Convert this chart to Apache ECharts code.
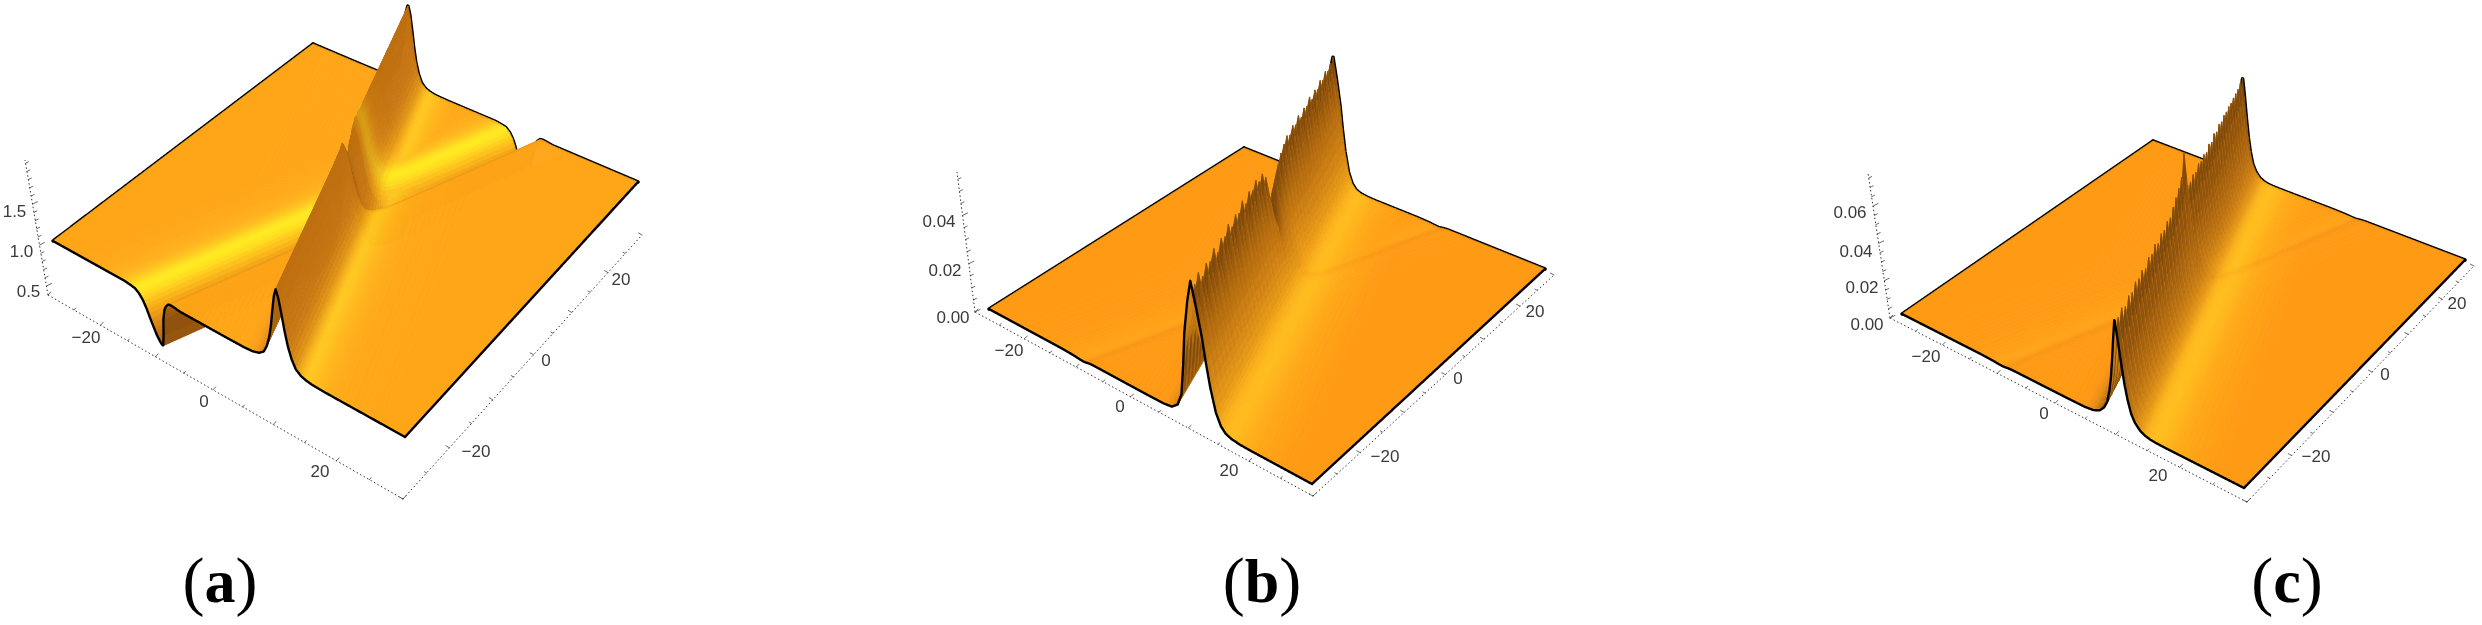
<!DOCTYPE html>
<html><head><meta charset="utf-8">
<style>html,body{margin:0;padding:0;background:#fff}#c{width:2482px;height:625px}</style>
<script src="https://cdn.jsdelivr.net/npm/echarts@6/dist/echarts.min.js"></script>
</head><body><div id="c"></div>
<script>
// ---------- values ----------
const panelNames = ['a', 'b', 'c'];
const xTickValues = [-30,-25,-20,-15,-10,-5,0,5,10,15,20,25,30];
const yTickValues = [-30,-25,-20,-15,-10,-5,0,5,10,15,20,25,30];
const planTickLabels = ['\u221220', '0', '20'];
const zTickLabelsA = ['0.5', '1.0', '1.5'];
const zTickLabelsB = ['0.00', '0.02', '0.04'];
const zTickLabelsC = ['0.00', '0.02', '0.04', '0.06'];
const zTicksA = [0.5,0.6,0.7,0.8,0.9,1,1.1,1.2,1.3,1.4,1.5,1.6,1.7,1.8,1.9,2];
const zTicksB = [0,0.005,0.01,0.015,0.02,0.025,0.03,0.035,0.04,0.045,0.05,0.055];
const zTicksC = [0,0.005,0.01,0.015,0.02,0.025,0.03,0.035,0.04,0.045,0.05,0.055,0.06,0.065,0.07,0.075];

// height of the tall ridge against distance from its crest line
const ridgeOffsets = [-50,-16,-9,-6,-4.5,-3.4,-2.6,-2,-1.5,-1.1,-.7,-.35,0,.35,.7,1.1,1.5,2,2.6,3.4,4.2,5,6,7.5,9,12,16,50];
const ridgeHeightA = [0,0,0,.002,.011,.037,.084,.177,.307,.465,.67,.837,.93,.837,.67,.465,.307,.177,.084,.037,.017,.007,.002,0,0,0,0,0];
const ridgeHeightB = [0,0,0,.0001,.0006,.0028,.0079,.0203,.0338,.0406,.0474,.0519,.0564,.0519,.0474,.0417,.0361,.0265,.0169,.0079,.0034,.0014,.0005,.0001,0,0,0,0];
const ridgeHeightC = [0,0,0,.0001,.0007,.0023,.0051,.009,.0158,.0237,.035,.0463,.0565,.0463,.035,.0237,.0158,.009,.0051,.0023,.001,.0004,.0001,0,0,0,0,0];
// how far the crest serration reaches down the flanks
const toothReach  = [0,0,0,0,0,.05,.2,.4,.7,.9,1,1,1,1,1,.9,.7,.4,.2,.05,0,0,0,0,0,0,0,0];
const streakReach = [0,0,0,0,0,.2,.4,.55,.7,.85,1,1,1,.8,.55,.32,.18,.1,.05,.02,0,0,0,0,0,0,0,0];

// depth of the valley against distance from its floor line
const valleyOffsets = [-50,-14,-10,-7.5,-6,-5,-4.2,-3.5,-2.9,-2.4,-1.9,-1.4,-1,-.6,-.3,0,.3,.6,1,1.4,1.9,2.4,3,4,6,50];
const valleyDepthA = [0,0,0,0,0,-.01,-.02,-.06,-.12,-.2,-.3,-.39,-.46,-.51,-.54,-.55,-.42,-.22,-.09,-.03,.01,.015,.01,0,0,0];
const valleyDepthB = [0,0,0,0,0,0,0,-.00005,-.0001,-.00015,-.0002,-.0003,-.0004,-.0005,-.0005,-.0006,-.0005,-.0004,-.0002,-.0001,0,0,0,0,0,0];
const valleyDepthC = [0,0,0,0,0,0,0,-.00005,-.0001,-.00015,-.0002,-.0003,-.0004,-.0005,-.0005,-.0006,-.0005,-.0004,-.0002,-.0001,0,0,0,0,0,0];

// crest gain along the ridge, from the front edge to the back edge
const crestGainA = [1,1,1,1,1,1,1,1,1,1,1,1,1,1,1,1,1,1,1.08,1.1,1.18,1.25,1.14,1.05,1,1,1,1,1,1,1,1,1,1,1,1,1,1,1,1,1];
const crestGainB = [1,.93,.97,.9,.95,.92,.97,.9,.96,.93,.98,.92,.97,.94,.99,.93,.98,.95,.99,.94,.96,.9,.72,.5,.78,.85,.9,.93,.96,.93,.97,.94,.98,.93,.97,.95,.99,.94,.98,.95,.99,.96,1,.97,1,1.02];
const crestGainC = [1,.95,.98,.93,.97,.94,.98,.95,.97,.93,.98,.95,.99,.94,.98,.96,.99,.97,1.02,1.06,1.1,1.16,1.36,.98,.96,.98,.95,.99,.96,.98,.95,.99,.96,1,.97,1,.98,1,.99,1,.99,1,1,1,1.02,1.03];

// surface colours
const ridgeColourA = ['#FFA518','#FFA518','#FFA518','#FFA518','#FAA018','#EC9216','#D88412','#B87010','#A86410','#A86410','#B06810','#B86C10','#BC7010','#C07010','#C27212','#C47412','#C87814','#D48414','#E09616','#F8B41C','#FFC820','#FFC41E','#FFBA1C','#FFB01A','#FFAA19','#FFA719','#FFA518','#FFA518'];
const ridgeColourB = ['#FF9A14','#FF9A14','#FF9A14','#FF9814','#E88C14','#C87A12','#A86410','#8C5410','#A46210','#B86E10','#C07212','#C47412','#C07010','#C07010','#BE7012','#BE7212','#C27612','#CC7E12','#D88A14','#E89A16','#F8AE1A','#FFB81C','#FFBC1C','#FFB41A','#FFAB18','#FFA216','#FF9A14','#FF9A14'];
const ridgeColourC = ['#FF9A14','#FF9A14','#FF9A14','#FF9814','#E88C14','#C87A12','#A86410','#8C5410','#A46210','#B86E10','#C07212','#C47412','#C07010','#C07010','#BE7012','#BE7212','#C27612','#CC7E12','#D88A14','#E89A16','#F8B01A','#FFBA1C','#FFBE1C','#FFB61A','#FFAB18','#FFA216','#FF9A14','#FF9A14'];
const valleyColourA = ['#FFA518','#FFA518','#FFA919','#FFB21C','#FFC41E','#FFDC20','#FFEA20','#FFE21E','#FFC81C','#F8AE18','#E89414','#D48012','#C07010','#B06810','#A86210','#A05C0E','#8E500C','#92540C','#A4600E','#C07812','#E89A18','#FFA518','#FFA518','#FFA518','#FFA518','#FFA518'];
const valleyColourB = ['#FF9A14','#FF9A14','#FF9A14','#FF9A14','#FF9B14','#FF9C15','#FF9D15','#FF9E15','#FF9F15','#FFA016','#FFA116','#FFA317','#FFA517','#FFA317','#FFA016','#FF9C15','#FA9714','#F89514','#F89514','#FB9714','#FE9914','#FF9A14','#FF9A14','#FF9A14','#FF9A14','#FF9A14'];
const valleyColourC = valleyColourB;

// ---------- layout of the three views ----------
const views = [
 {quad:[[53,241],[405,437],[638,182],[313,44]], kFront:84, kBack:84, base:1, xv:404, tilt:.00046,
  sa:.36, a0:-.2, sb:.363, b0:.6, ridge:ridgeHeightA, valley:valleyDepthA, gain:crestGainA, drop:0, shade:0, byY:false, bStep:.35,
  ridgeColour:ridgeColourA, valleyColour:valleyColourA,
  axis:{S:[48,295],C:[403,499],E:[642,235],Z:[25,160],z0:.39,z1:2.04}, zTicks:zTicksA, zMajor:[.5,1,1.5], zLabels:zTickLabelsA,
  zPos:[[28.5,292],[21.5,252],[14.5,212]], xPos:[[86,338],[204,402],[320,472]], yPos:[[476,452],[546,361],[621,280]], name:[220,586]},
 {quad:[[989,309],[1312,484],[1545,269],[1244,148]], kFront:2500, kBack:2190, base:0, xv:1312, tilt:.00043,
  sa:.36, a0:0, sb:.35, b0:0, ridge:ridgeHeightB, valley:valleyDepthB, gain:crestGainB, drop:.17, shade:1, byY:true, bStep:1,
  ridgeColour:ridgeColourB, valleyColour:valleyColourB,
  axis:{S:[975,312],C:[1313,496],E:[1554,275],Z:[957,172],z0:0,z1:.058}, zTicks:zTicksB, zMajor:[0,.02,.04], zLabels:zTickLabelsB,
  zPos:[[953,318],[945,271],[939,222]], xPos:[[1009,351],[1120,407],[1229,471]], yPos:[[1385,457],[1458,379],[1535,312]], name:[1262,586]},
 {quad:[[1902,314],[2244,488],[2465,260],[2153,141]], kFront:1875, kBack:1664, base:0, xv:2245, tilt:.00043,
  sa:.358, a0:-.45, sb:.35, b0:0, ridge:ridgeHeightC, valley:valleyDepthC, gain:crestGainC, drop:.13, shade:1, byY:true, bStep:1,
  ridgeColour:ridgeColourC, valleyColour:valleyColourC,
  axis:{S:[1890,318],C:[2247,502],E:[2474,266],Z:[1868,173],z0:0,z1:.0777}, zTicks:zTicksC, zMajor:[0,.02,.04,.06], zLabels:zTickLabelsC,
  zPos:[[1867,325],[1862,288],[1856,252],[1850,213]], xPos:[[1926,357],[2044,414],[2158,476]], yPos:[[2316,457],[2385,375],[2457,304]], name:[2287,586]}
];

function lookup(xs, ys, v){
  if (v <= xs[0]) return ys[0];
  for (let i = 1; i < xs.length; i++) if (v <= xs[i]) {
    const f = (v - xs[i-1]) / (xs[i] - xs[i-1]);
    return ys[i-1] + f * (ys[i] - ys[i-1]);
  }
  return ys[ys.length-1];
}
const hexToRgb = h => [parseInt(h.slice(1,3),16),parseInt(h.slice(3,5),16),parseInt(h.slice(5,7),16)];
const rgbText = c => 'rgb(' + c.map(v => Math.max(0,Math.min(255,Math.round(v)))).join(',') + ')';
function colourAt(xs, rgbTable, v){
  return [0,1,2].map(k => lookup(xs, rgbTable[k], v));
}
const channels = table => [0,1,2].map(k => table.map(h => hexToRgb(h)[k]));
function homography(q){
  const [p0,p1,p2,p3] = q;
  const d1=[p1[0]-p2[0],p1[1]-p2[1]], d2=[p3[0]-p2[0],p3[1]-p2[1]];
  const s=[p0[0]-p1[0]+p2[0]-p3[0], p0[1]-p1[1]+p2[1]-p3[1]];
  const den=d1[0]*d2[1]-d2[0]*d1[1];
  const g=(s[0]*d2[1]-d2[0]*s[1])/den, h=(d1[0]*s[1]-s[0]*d1[1])/den;
  return (u,v)=>{
    const w=g*u+h*v+1;
    return [((p1[0]-p0[0]+g*p1[0])*u+(p3[0]-p0[0]+h*p3[0])*v+p0[0])/w,
            ((p1[1]-p0[1]+g*p1[1])*u+(p3[1]-p0[1]+h*p3[1])*v+p0[1])/w];
  };
}
function clipSquare(poly){
  const L=30;
  const planes=[[0,1,-L],[0,-1,L],[1,1,-L],[1,-1,L]];
  let out=poly;
  for(const [ax,sg,lim] of planes){
    const res=[];
    const inside=p=>sg>0 ? p[ax]>=lim : p[ax]<=lim;
    for(let i=0;i<out.length;i++){
      const A=out[i],B=out[(i+1)%out.length];
      const ia=inside(A),ib=inside(B);
      if(ia) res.push(A);
      if(ia!==ib){const f=(lim-A[ax])/(B[ax]-A[ax]);res.push([A[0]+f*(B[0]-A[0]),A[1]+f*(B[1]-A[1])]);}
    }
    out=res;
    if(!out.length) break;
  }
  return out;
}
// paint-time slicing of the tables, so colour bands do not show
function slices(breaks, lo, hi, stepIn, stepOut, inner){
  const out=[];
  for(let i=0;i<breaks.length-1;i++){
    const p=breaks[i],q=breaks[i+1];
    out.push(p);
    if(p>=lo&&q<=hi){
      const st=(Math.abs(p)<inner&&Math.abs(q)<=inner)?stepIn:stepOut;
      const m=Math.ceil((q-p)/st);
      for(let k=1;k<m;k++) out.push(p+(q-p)*k/m);
    }
  }
  out.push(breaks[breaks.length-1]);
  return out;
}

const items=[];

views.forEach((V,vi)=>{
  const H=homography(V.quad);
  const n=V.gain.length;
  const rgbR=channels(V.ridgeColour), rgbV=channels(V.valleyColour);
  const flat=hexToRgb(V.ridgeColour[0]);
  const toothY=[],toothM=[];
  for(let i=0;i<n;i++){
    const y=-30+i*60/(n-1);
    toothY.push(y); toothM.push(V.gain[i]);
    if(i<n-1){ toothY.push(y+(V.drop?.3:.5)*60/(n-1)); toothM.push(Math.min(V.gain[i],V.gain[i+1])-V.drop); }
  }
  const bAtCrest=y=>V.a0-V.sa*y-V.sb*y-V.b0;
  const toothB=toothY.map(bAtCrest).reverse(), toothBM=toothM.slice().reverse();
  const aOf=(x,y)=>x+V.sa*y-V.a0, bOf=(x,y)=>x-V.sb*y-V.b0;
  const gainAt=(x,y)=>V.byY?lookup(toothY,toothM,y):lookup(toothB,toothBM,bOf(x,y));
  const height=(x,y)=>{
    const a=aOf(x,y),b=bOf(x,y);
    const w=lookup(ridgeOffsets,toothReach,a);
    return lookup(ridgeOffsets,V.ridge,a)*(1+w*(gainAt(x,y)-1))+lookup(valleyOffsets,V.valley,b);
  };
  const project=(x,y,z)=>{
    const u=(x+30)/60,v=(y+30)/60;
    const p=H(u,v);
    const h=z*(V.kFront*(1-v)+V.kBack*v);
    return [p[0]+(p[0]-V.xv)*V.tilt*h,p[1]-h];
  };
  const edge=(x0,y0,x1,y1)=>{
    const pts=[];const N=900;
    for(let i=0;i<=N;i++){const x=x0+(x1-x0)*i/N,y=y0+(y1-y0)*i/N;pts.push(project(x,y,height(x,y)));}
    return pts;
  };
  // box axes
  const A=V.axis;
  const guide=(a,b)=>items.push({pts:[a,b],stroke:'#333',width:1,dash:[1.5,2.5]});
  guide(A.S,A.C);guide(A.C,A.E);guide(A.S,A.Z);
  const unit=(a,b)=>{const d=[b[0]-a[0],b[1]-a[1]],l=Math.hypot(d[0],d[1]);return [d[0]/l,d[1]/l];};
  const dFront=unit(A.S,A.C),dRight=unit(A.C,A.E);
  const lenFront=Math.hypot(V.quad[1][0]-V.quad[0][0],V.quad[1][1]-V.quad[0][1]);
  const lenRight=Math.hypot(V.quad[2][0]-V.quad[1][0],V.quad[2][1]-V.quad[1][1]);
  xTickValues.forEach(x=>{
    const p=H((x+30)/60,0);const f=Math.hypot(p[0]-V.quad[0][0],p[1]-V.quad[0][1])/lenFront;
    const q=[A.S[0]+f*(A.C[0]-A.S[0]),A.S[1]+f*(A.C[1]-A.S[1])];
    const l=x%10===0?4:2.5;
    items.push({pts:[q,[q[0]+dRight[0]*l,q[1]+dRight[1]*l]],stroke:'#444',width:.8});
  });
  yTickValues.forEach(y=>{
    const p=H(1,(y+30)/60);const f=Math.hypot(p[0]-V.quad[1][0],p[1]-V.quad[1][1])/lenRight;
    const q=[A.C[0]+f*(A.E[0]-A.C[0]),A.C[1]+f*(A.E[1]-A.C[1])];
    const l=y%10===0?4:2.5;
    items.push({pts:[q,[q[0]-dFront[0]*l,q[1]-dFront[1]*l]],stroke:'#444',width:.8});
  });
  V.zTicks.forEach(z=>{
    const f=(z-A.z0)/(A.z1-A.z0);
    const q=[A.S[0]+f*(A.Z[0]-A.S[0]),A.S[1]+f*(A.Z[1]-A.S[1])];
    const l=V.zMajor.some(m=>Math.abs(m-z)<1e-9)?5:3;
    items.push({pts:[q,[q[0]+l,q[1]-l*.5]],stroke:'#444',width:.8});
  });
  // labels
  const tickFont='17px "Liberation Sans"';
  V.zLabels.forEach((t,i)=>items.push({text:t,at:V.zPos[i],font:tickFont,fill:'#3a3a3a'}));
  planTickLabels.forEach((t,i)=>{
    items.push({text:t,at:V.xPos[i],font:tickFont,fill:'#3a3a3a'});
    items.push({text:t,at:V.yPos[i],font:tickFont,fill:'#3a3a3a'});
  });
  items.push({name:panelNames[vi],at:V.name});

  // back edges first, so that the surface can hide them
  items.push({pts:edge(-30,30,30,30),stroke:'#000',width:3.6});
  items.push({pts:edge(-30,-30,-30,30),stroke:'#000',width:3.4});

  // surface cells, painted from far to near
  const strips=slices(ridgeOffsets,-16,16,.35,.8,9);
  const valleyLines=slices(valleyOffsets,-14,6,V.bStep,V.bStep*1.5,14);
  const bAll=Array.from(new Set(valleyLines.concat(toothB))).sort((p,q)=>p-q);
  const xy=(a,b)=>{const y=((a+V.a0)-(b+V.b0))/(V.sa+V.sb);return [a+V.a0-V.sa*y,y];};
  const cellColour=(rc,bm)=>{
    const vc=colourAt(valleyOffsets,rgbV,bm);
    const d1=[0,1,2].map(k=>rc[k]-flat[k]), d2=[0,1,2].map(k=>vc[k]-flat[k]);
    const n1=Math.abs(d1[0])+Math.abs(d1[1]), n2=Math.abs(d2[0])+Math.abs(d2[1]);
    const s1=d1[0]+d1[1], s2=d2[0]+d2[1];
    let c;
    if(s1*s2>=0){ c=[0,1,2].map(k=>flat[k]+(Math.abs(d1[k])>Math.abs(d2[k])?d1[k]:d2[k])); }
    else { const t=n1/(n1+n2||1); c=[0,1,2].map(k=>flat[k]+t*d1[k]+(1-t)*d2[k]); }
    c[1]=Math.min(c[1],234);c[2]=Math.min(c[2],33);
    return c;
  };
  const cellsPush=(poly,fill)=>{
    if(poly.length<3) return;
    items.push({pts:poly.map(p=>project(p[0],p[1],height(p[0],p[1]))),fill:fill});
  };
  for(let i=0;i<strips.length-1;i++){
    const a1=strips[i],a2=strips[i+1],am=(a1+a2)/2;
    const rc=colourAt(ridgeOffsets,rgbR,am);
    const toothed=a2>-4.6&&a1<4.3;
    if(toothed&&V.byY){
      const sw=lookup(ridgeOffsets,streakReach,am)*V.shade;
      for(let j=toothY.length-1;j>0;j--){
        const y2=toothY[j],y1=toothY[j-1],ym=(y1+y2)/2;
        const pt=(a,y)=>[a+V.a0-V.sa*y,y];
        const poly=clipSquare([pt(a1,y2),pt(a2,y2),pt(a2,y1),pt(a1,y1)]);
        let c=cellColour(rc,bOf(am+V.a0-V.sa*ym,ym));
        const rising=toothM[j]-toothM[j-1]>0;
        if(rising){const t=.72*sw;c=[c[0]*(1-t)+94*t,c[1]*(1-t)+54*t,c[2]*(1-t)+8*t];}
        else{const t=.35*sw;c=[c[0]*(1-t)+240*t,c[1]*(1-t)+160*t,c[2]*(1-t)+30*t];}
        cellsPush(poly,rgbText(c));
      }
    }else{
      const bs=toothed?bAll:valleyLines;
      for(let j=0;j<bs.length-1;j++){
        const b1=bs[j],b2=bs[j+1],bm=(b1+b2)/2;
        if(b2-b1<1e-6) continue;
        const poly=clipSquare([xy(a1,b1),xy(a2,b1),xy(a2,b2),xy(a1,b2)]);
        cellsPush(poly,rgbText(cellColour(rc,bm)));
      }
    }
  }
  // near edges last
  items.push({pts:edge(30,-30,30,30),stroke:'#000',width:2.4});
  items.push({pts:edge(-30,-30,30,-30),stroke:'#000',width:2.4});
});

const chart=echarts.init(document.getElementById('c'),null,{renderer:'canvas'});
chart.setOption({
  animation:false,
  backgroundColor:'#fff',
  grid:{left:0,right:0,top:0,bottom:0,containLabel:false},
  xAxis:{type:'value',min:0,max:2482,show:false},
  yAxis:{type:'value',min:0,max:625,inverse:true,show:false},
  series:[{
    type:'custom',coordinateSystem:'cartesian2d',clip:false,silent:true,progressive:0,
    data:items.map((_,i)=>[i,0]),
    renderItem:(params,api)=>{
      const it=items[params.dataIndex];
      if(it.name){
        const p=api.coord(it.at);
        return {type:'text',x:p[0],y:p[1],style:{text:'{p|(}{l|'+it.name+'}{p|)}',align:'center',verticalAlign:'middle',textAlign:'center',textVerticalAlign:'middle',fill:'#000',
          rich:{p:{font:'66px "Liberation Serif"',fill:'#000'},l:{font:'bold 62px "Liberation Serif"',fill:'#000'}}}};
      }
      if(it.text){
        const p=api.coord(it.at);
        return {type:'text',x:p[0],y:p[1],style:{text:it.text,font:it.font,fill:it.fill,align:'center',verticalAlign:'middle',textAlign:'center',textVerticalAlign:'middle'}};
      }
      const pts=it.pts.map(q=>api.coord(q));
      if(it.fill) return {type:'polygon',shape:{points:pts},style:{fill:it.fill,stroke:it.fill,lineWidth:.7,lineJoin:'round'}};
      return {type:'polyline',shape:{points:pts},style:{fill:null,stroke:it.stroke,lineWidth:it.width,lineDash:it.dash||null,lineJoin:'round',lineCap:it.dash?'butt':'round'}};
    }
  }]
});
</script></body></html>
